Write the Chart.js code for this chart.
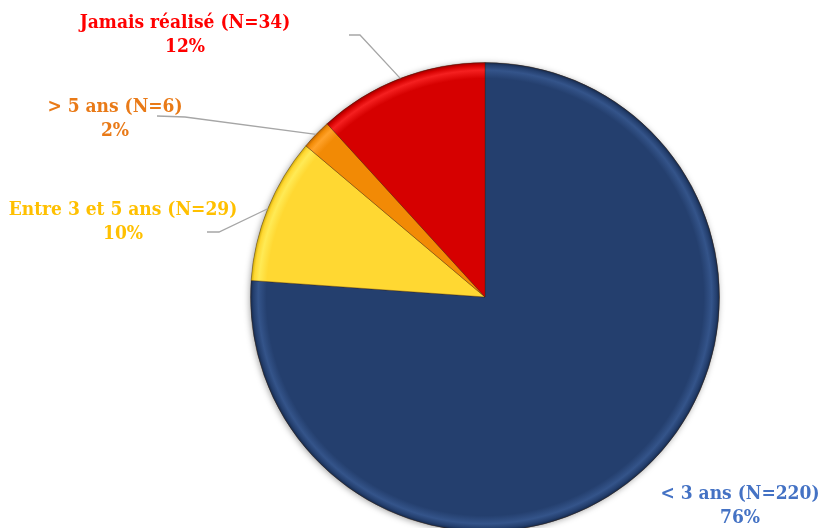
<!DOCTYPE html>
<html>
<head>
<meta charset="utf-8">
<script src="https://cdn.jsdelivr.net/npm/chart.js@4.4.0/dist/chart.umd.min.js"></script>
<style>
  html, body { margin: 0; padding: 0; background: #ffffff; overflow: hidden; }
  #wrap { width: 824px; height: 540px; position: relative; }
</style>
</head>
<body>
<div id="wrap"><canvas id="c" width="824" height="540"></canvas></div>
<script>
// ---- Data ----
const categories = ["< 3 ans (N=220)", "Entre 3 et 5 ans (N=29)", "> 5 ans (N=6)", "Jamais réalisé (N=34)"];
const counts = [220, 29, 6, 34];

// ---- Styles ----
const sliceColors = ["#243F6E", "#FFD832", "#F28A05", "#D60000"];
const rimLight = ["#34548A", "#FFEA55", "#FFA22A", "#F52020"];
const rimDark = ["#132646", "#C9A400", "#B35F00", "#8F0000"];
const textColors = ["#4472C4", "#FFC000", "#E97A17", "#FF0000"];
// label layout: text centre x, first-line centre y, leader path (elbow, end) or null
const labelLayout = [
  { x: 740, y: 494, leader: null },
  { x: 123, y: 210, leader: [[219, 232], [207, 232]] },
  { x: 115, y: 107, leader: [[185, 117], [157, 116]] },
  { x: 185, y: 23, leader: [[360, 35], [349, 35]] }
];
const lineGap = 24;
const labelFont = "bold 19px 'DejaVu Serif Condensed', 'Liberation Serif', serif";

const total = counts.reduce((a, b) => a + b, 0);
const percents = counts.map(v => Math.round(v / total * 100) + "%");

function sliceFill(ctx) {
  const chart = ctx.chart;
  const i = ctx.dataIndex;
  const a = chart.chartArea;
  if (!a) return sliceColors[i];
  const cx = (a.left + a.right) / 2, cy = (a.top + a.bottom) / 2;
  const r = Math.min(a.right - a.left, a.bottom - a.top) / 2;
  const g = chart.ctx.createRadialGradient(cx, cy, 0, cx, cy, r);
  g.addColorStop(0, sliceColors[i]);
  g.addColorStop(0.93, sliceColors[i]);
  g.addColorStop(0.965, rimLight[i]);
  g.addColorStop(0.985, sliceColors[i]);
  g.addColorStop(1, rimDark[i]);
  return g;
}

const labelPlugin = {
  id: 'outLabels',
  afterDatasetsDraw(chart) {
    const ctx = chart.ctx;
    const meta = chart.getDatasetMeta(0);
    ctx.save();
    meta.data.forEach((arc, i) => {
      const lay = labelLayout[i];
      const p = arc.getProps(['x', 'y', 'startAngle', 'endAngle', 'outerRadius'], true);
      const mid = (p.startAngle + p.endAngle) / 2;
      if (lay.leader) {
        const sx = p.x + Math.cos(mid) * p.outerRadius;
        const sy = p.y + Math.sin(mid) * p.outerRadius;
        ctx.beginPath();
        ctx.strokeStyle = "#A6A6A6";
        ctx.lineWidth = 1.3;
        ctx.moveTo(sx, sy);
        lay.leader.forEach(pt => ctx.lineTo(pt[0], pt[1]));
        ctx.stroke();
      }
      ctx.font = labelFont;
      ctx.fillStyle = textColors[i];
      ctx.textAlign = "center";
      ctx.textBaseline = "middle";
      ctx.fillText(categories[i], lay.x, lay.y);
      ctx.fillText(percents[i], lay.x, lay.y + lineGap);
    });
    ctx.restore();
  }
};

const shadowPlugin = {
  id: 'pieShadow',
  beforeDatasetsDraw(chart) {
    const meta = chart.getDatasetMeta(0);
    if (!meta.data.length) return;
    const p = meta.data[0].getProps(['x', 'y', 'outerRadius'], true);
    const ctx = chart.ctx;
    ctx.save();
    ctx.beginPath();
    ctx.arc(p.x, p.y, p.outerRadius, 0, Math.PI * 2);
    ctx.shadowColor = "rgba(0,0,0,0.35)";
    ctx.shadowBlur = 6;
    ctx.shadowOffsetX = -1;
    ctx.shadowOffsetY = 1;
    ctx.fillStyle = "#888";
    ctx.fill();
    ctx.restore();
  }
};

new Chart(document.getElementById('c'), {
  type: 'pie',
  data: {
    labels: categories,
    datasets: [{
      data: counts,
      backgroundColor: sliceFill,
      borderColor: "rgba(60,30,0,0.35)",
      borderWidth: 1
    }]
  },
  options: {
    responsive: false,
    animation: false,
    rotation: 0,
    layout: { padding: { left: 250, right: 104, top: 62, bottom: 8 } },
    plugins: {
      legend: { display: false },
      tooltip: { enabled: false },
      title: { display: false }
    }
  },
  plugins: [shadowPlugin, labelPlugin]
});
</script>
</body>
</html>
